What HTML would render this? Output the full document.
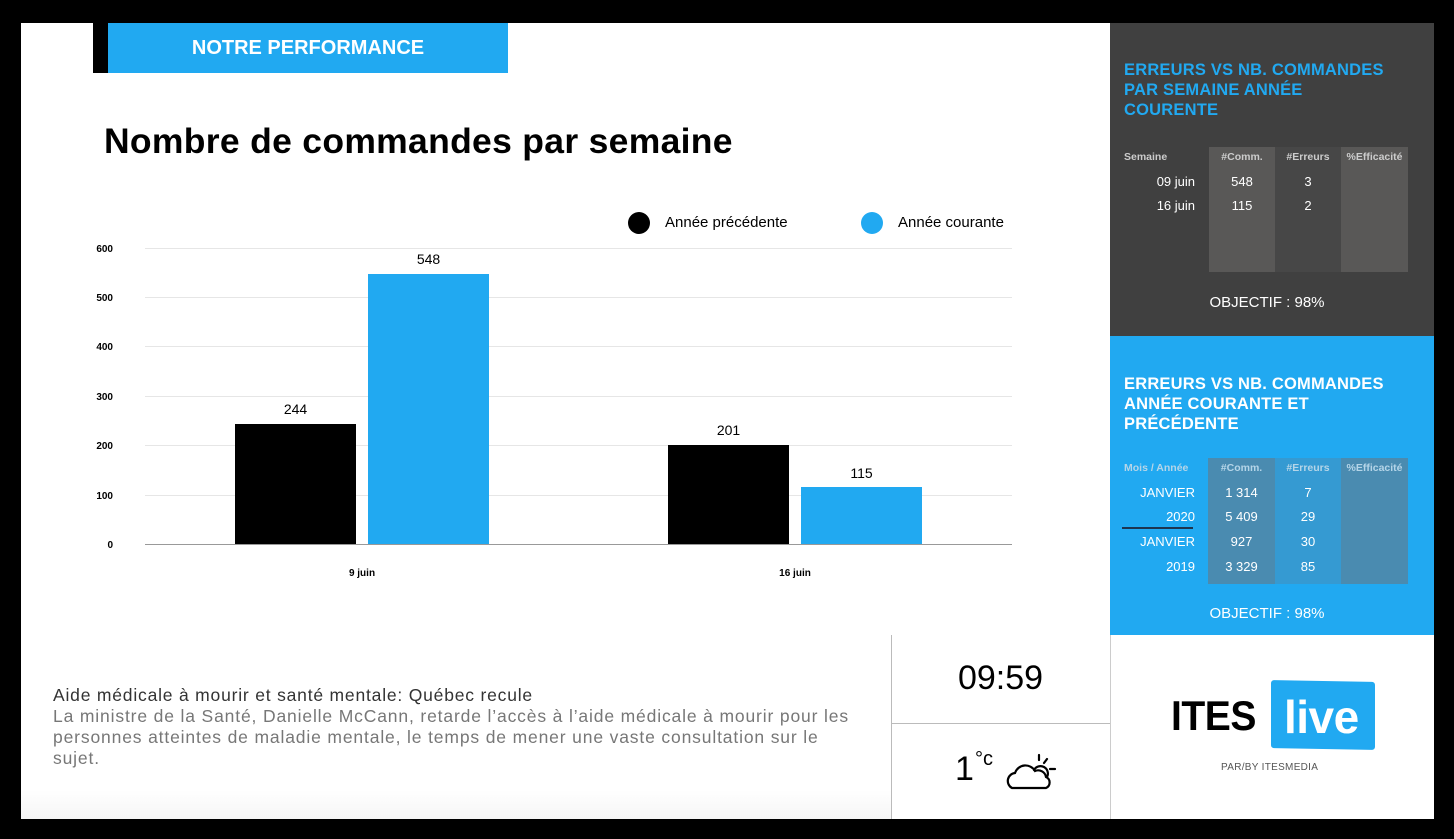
<!DOCTYPE html>
<html><head><meta charset="utf-8"><style>
*{margin:0;padding:0;box-sizing:border-box}
body{width:1454px;height:839px;background:#000;position:relative;overflow:hidden;font-family:"Liberation Sans",Arial,sans-serif}
.a{position:absolute;white-space:nowrap}
.c{text-align:center}
</style></head><body>
<div class="a" style="left:21px;top:23px;width:1413px;height:796px;background:#fff"></div>
<div class="a" style="left:21px;top:790px;width:870px;height:29px;background:linear-gradient(#fff,#f6f6f6)"></div>
<!-- header -->
<div class="a" style="left:93px;top:23px;width:15px;height:50px;background:#000"></div>
<div class="a c" style="left:108px;top:23px;width:400px;height:50px;background:#21a9f1;color:#fff;font-weight:bold;font-size:20px;line-height:50px">NOTRE PERFORMANCE</div>
<div class="a" style="left:104px;top:121px;font-size:35.5px;font-weight:bold;color:#000;letter-spacing:0.3px">Nombre de commandes par semaine</div>
<!-- legend -->
<div class="a" style="left:628px;top:212px;width:22px;height:22px;border-radius:50%;background:#000"></div>
<div class="a" style="left:665px;top:214px;font-size:15px">Année précédente</div>
<div class="a" style="left:861px;top:212px;width:22px;height:22px;border-radius:50%;background:#21a9f1"></div>
<div class="a" style="left:898px;top:214px;font-size:15px">Année courante</div>
<!-- chart -->
<svg class="a" style="left:0;top:0" width="1454" height="839">
<g stroke="#e6e6e6" stroke-width="1">
<line x1="145" x2="1012" y1="248.5" y2="248.5"/><line x1="145" x2="1012" y1="297.5" y2="297.5"/>
<line x1="145" x2="1012" y1="346.5" y2="346.5"/><line x1="145" x2="1012" y1="396.5" y2="396.5"/>
<line x1="145" x2="1012" y1="445.5" y2="445.5"/><line x1="145" x2="1012" y1="495.5" y2="495.5"/>
</g>
<line x1="145" x2="1012" y1="544.5" y2="544.5" stroke="#999"/>
<g font-family="Liberation Sans" font-size="10" font-weight="bold" text-anchor="end" fill="#000">
<text x="113" y="252">600</text><text x="113" y="301">500</text><text x="113" y="350">400</text>
<text x="113" y="400">300</text><text x="113" y="449">200</text><text x="113" y="499">100</text><text x="113" y="548">0</text>
</g>
<rect x="235" y="424" width="121" height="120" fill="#000"/>
<rect x="368" y="274" width="121" height="270" fill="#21a9f1"/>
<rect x="668" y="445" width="121" height="99" fill="#000"/>
<rect x="801" y="487" width="121" height="57" fill="#21a9f1"/>
<g font-family="Liberation Sans" font-size="14" text-anchor="middle" fill="#000">
<text x="295.5" y="414">244</text><text x="428.5" y="264">548</text>
<text x="728.5" y="435">201</text><text x="861.5" y="478">115</text>
</g>
<g font-family="Liberation Sans" font-size="10" font-weight="bold" text-anchor="middle">
<text x="362" y="576">9 juin</text><text x="795" y="576">16 juin</text>
</g>
<line x1="891.5" x2="891.5" y1="635" y2="819" stroke="#bbb"/>
<line x1="891" x2="1110" y1="723.5" y2="723.5" stroke="#bbb"/>
<line x1="1110.5" x2="1110.5" y1="635" y2="819" stroke="#ccc"/>
<!-- cloud -->
<g fill="none" stroke="#000" stroke-width="2.2" stroke-linecap="round">
<path d="M1012 788 a8 8 0 0 1 3-15 a11 11 0 0 1 20-2 a8 8 0 0 1 11 6 a6 6 0 0 1 0 11 z"/>
<path d="M1034 770 a7 7 0 0 1 13 7"/>
<line x1="1039" y1="755" x2="1039" y2="760"/><line x1="1047" y1="759" x2="1044" y2="763"/><line x1="1050" y1="769" x2="1055" y2="769"/>
</g>
</svg>
<!-- news -->
<div class="a" style="left:53px;top:685px;font-size:17.5px;color:#333;line-height:21px;letter-spacing:0.8px">Aide médicale à mourir et santé mentale: Québec recule</div>
<div class="a" style="left:53px;top:706px;font-size:17.5px;color:#777;line-height:21px;letter-spacing:0.85px">La ministre de la Santé, Danielle McCann, retarde l’accès à l’aide médicale à mourir pour les<br>personnes atteintes de maladie mentale, le temps de mener une vaste consultation sur le<br>sujet.</div>
<div class="a c" style="left:891px;top:659px;width:219px;font-size:34px">09:59</div>
<div class="a" style="left:955px;top:750px;font-size:34px">1</div>
<div class="a" style="left:975px;top:748px;font-size:20px">°c</div>
<!-- right dark panel -->
<div class="a" style="left:1110px;top:23px;width:324px;height:313px;background:#404040"></div>
<div class="a" style="left:1124px;top:60px;color:#21a9f1;font-weight:bold;font-size:16.5px;line-height:20px;letter-spacing:0.2px">ERREURS VS NB. COMMANDES<br>PAR SEMAINE ANNÉE<br>COURENTE</div>
<div class="a" style="left:1209px;top:147px;width:66px;height:125px;background:#595857"></div>
<div class="a" style="left:1275px;top:147px;width:66px;height:125px;background:#474747"></div>
<div class="a" style="left:1341px;top:147px;width:67px;height:125px;background:#595857"></div>
<div style="color:#ccc;font-weight:bold;font-size:10.5px">
<div class="a" style="left:1124px;top:151px">Semaine</div>
<div class="a c" style="left:1209px;top:151px;width:66px">#Comm.</div>
<div class="a c" style="left:1275px;top:151px;width:66px">#Erreurs</div>
<div class="a c" style="left:1341px;top:151px;width:67px">%Efficacité</div>
</div>
<div style="color:#fff;font-size:13px">
<div class="a" style="left:1124px;top:174px;width:71px;text-align:right">09 juin</div>
<div class="a c" style="left:1209px;top:174px;width:66px">548</div>
<div class="a c" style="left:1275px;top:174px;width:66px">3</div>
<div class="a" style="left:1124px;top:198px;width:71px;text-align:right">16 juin</div>
<div class="a c" style="left:1209px;top:198px;width:66px">115</div>
<div class="a c" style="left:1275px;top:198px;width:66px">2</div>
</div>
<div class="a c" style="left:1110px;top:294px;width:314px;color:#fff;font-size:15px">OBJECTIF : 98%</div>
<!-- right blue panel -->
<div class="a" style="left:1110px;top:336px;width:324px;height:299px;background:#21a9f1"></div>
<div class="a" style="left:1124px;top:374px;color:#fff;font-weight:bold;font-size:16.5px;line-height:20px;letter-spacing:0.2px">ERREURS VS NB. COMMANDES<br>ANNÉE COURANTE ET<br>PRÉCÉDENTE</div>
<div class="a" style="left:1208px;top:458px;width:67px;height:126px;background:#4a8bb0"></div>
<div class="a" style="left:1275px;top:458px;width:66px;height:126px;background:#359ad2"></div>
<div class="a" style="left:1341px;top:458px;width:67px;height:126px;background:#4a8bb0"></div>
<div style="color:#b5d5e8;font-weight:bold;font-size:10.5px">
<div class="a" style="left:1124px;top:462px">Mois / Année</div>
<div class="a c" style="left:1208px;top:462px;width:67px">#Comm.</div>
<div class="a c" style="left:1275px;top:462px;width:66px">#Erreurs</div>
<div class="a c" style="left:1341px;top:462px;width:67px">%Efficacité</div>
</div>
<div style="color:#fff;font-size:13px">
<div class="a" style="left:1124px;top:485px;width:71px;text-align:right">JANVIER</div>
<div class="a c" style="left:1208px;top:485px;width:67px">1 314</div>
<div class="a c" style="left:1275px;top:485px;width:66px">7</div>
<div class="a" style="left:1124px;top:509px;width:71px;text-align:right">2020</div>
<div class="a c" style="left:1208px;top:509px;width:67px">5 409</div>
<div class="a c" style="left:1275px;top:509px;width:66px">29</div>
<div class="a" style="left:1124px;top:534px;width:71px;text-align:right">JANVIER</div>
<div class="a c" style="left:1208px;top:534px;width:67px">927</div>
<div class="a c" style="left:1275px;top:534px;width:66px">30</div>
<div class="a" style="left:1124px;top:559px;width:71px;text-align:right">2019</div>
<div class="a c" style="left:1208px;top:559px;width:67px">3 329</div>
<div class="a c" style="left:1275px;top:559px;width:66px">85</div>
</div>
<div class="a" style="left:1122px;top:527px;width:71px;height:2px;background:#1d3550"></div>
<div class="a c" style="left:1110px;top:605px;width:314px;color:#fff;font-size:15px">OBJECTIF : 98%</div>
<!-- logo -->
<div class="a" style="left:1171px;top:692px;font-size:42px;font-weight:bold;letter-spacing:-0.5px;transform:scaleX(0.93);transform-origin:left">ITES</div>
<div class="a" style="left:1271px;top:681px;width:104px;height:68px;background:#21a9f1;border-radius:3px;transform:skewY(1deg)"></div>
<div class="a" style="left:1284px;top:690px;font-size:46px;color:#fff;font-weight:bold;letter-spacing:-0.5px">live</div>
<div class="a" style="left:1221px;top:762px;font-size:10px;color:#555;letter-spacing:0.3px">PAR/BY ITESMEDIA</div>
</body></html>
